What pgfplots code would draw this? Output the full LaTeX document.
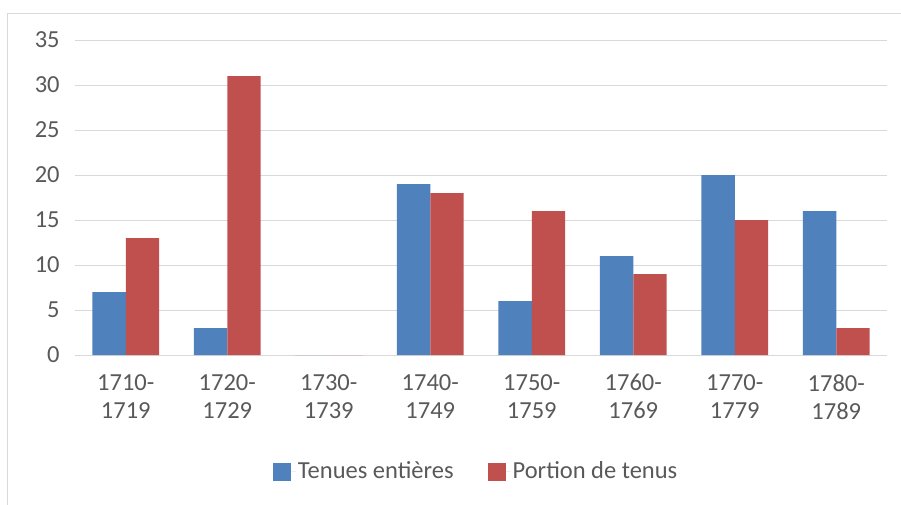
\documentclass[border=0pt]{standalone}
\usepackage{fontspec}
\setmainfont{Carlito}
\usepackage{pgfplots}
\pgfplotsset{compat=1.18}

\definecolor{blueS}{RGB}{79,129,189}
\definecolor{redS}{RGB}{192,80,77}
\definecolor{gridc}{RGB}{217,217,217}
\definecolor{txt}{RGB}{89,89,89}

\begin{document}
\fontsize{24.5bp}{29bp}\selectfont
\begin{tikzpicture}
  \useasboundingbox (-75bp,-150bp) rectangle (826bp,355bp);
  % light chart frame (left and top edges visible)
  \draw[gridc, line width=1bp] (-67bp,-160bp) -- (-67bp,341bp) -- (840bp,341bp);

  \begin{axis}[
      at={(0,0)}, anchor=south west,
      scale only axis,
      width=812bp, height=315bp,
      xmin=-0.5, xmax=7.5,
      ymin=0, ymax=35,
      ytick={0,5,...,35},
      xtick={0,...,7},
      xticklabels={1710-\\1719, 1720-\\1729, 1730-\\1739, 1740-\\1749,
                   1750-\\1759, 1760-\\1769, 1770-\\1779, 1780-\\1789},
      xticklabel style={align=center, text=txt, font=\fontsize{24.5bp}{28bp}\selectfont, yshift=-11bp},
      yticklabel style={text=txt, xshift=-7bp},
      /pgf/number format/assume math mode=true,
      major tick length=0pt,
      axis x line*=bottom,
      axis y line*=left,
      x axis line style={gridc, line width=1bp, -},
      y axis line style={draw=none},
      ymajorgrids,
      grid style={gridc, line width=1bp},
      ybar=0pt,
      bar width=0.33,
      legend style={
        at={(axis description cs:0.494,-0.371)}, anchor=center,
        draw=none, fill=none, text=txt,
        legend columns=2,
        /tikz/every even column/.append style={column sep=32bp},
      },
      legend image code/.code={
        \fill[#1] (0bp,-9bp) rectangle (18bp,9bp);
        \path (0bp,0bp) -- (23bp,0bp);
      },
    ]
    \addplot[fill=blueS, draw=none] coordinates {
      (0,7) (1,3) (2,0) (3,19) (4,6) (5,11) (6,20) (7,16)
    };
    \addlegendentry{Tenues entières}
    \addplot[fill=redS, draw=none] coordinates {
      (0,13) (1,31) (2,0) (3,18) (4,16) (5,9) (6,15) (7,3)
    };
    \addlegendentry{Portion de tenus}
  \end{axis}
\end{tikzpicture}
\end{document}
